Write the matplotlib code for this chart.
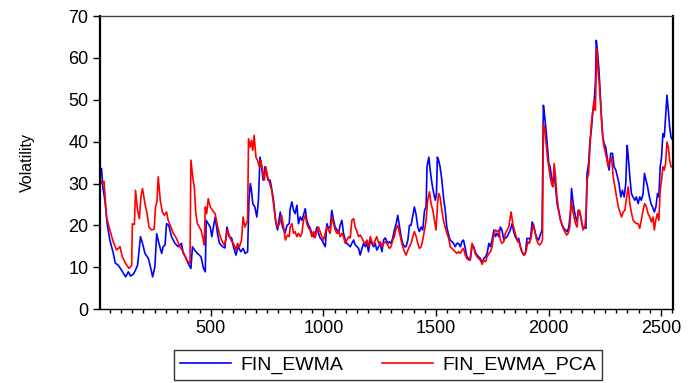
import matplotlib
matplotlib.use("Agg")
import matplotlib.pyplot as plt
from matplotlib.ticker import MultipleLocator

plt.rcParams["font.family"] = ["Liberation Sans", "DejaVu Sans"]

# FIN_EWMA: observation index / volatility level
ewma_obs = [
    5, 8, 14, 20, 29, 40, 51, 66, 75, 88, 103, 121, 133, 143, 155, 165, 174, 178,
    187, 196, 207, 222, 233, 241, 251, 259, 269, 281, 288, 296, 303, 313, 325,
    340, 355, 369, 377, 387, 399, 411, 418, 429, 440, 456, 467, 475, 479, 488,
    497, 504, 511, 519, 529, 538, 552, 562, 571, 581, 592, 600, 611, 621, 633,
    643, 652, 663, 669, 675, 680, 686, 695, 704, 711, 718, 725, 732, 740, 747,
    754, 763, 771, 778, 789, 796, 808, 818, 829, 838, 848, 852, 860, 867, 874,
    882, 889, 897, 904, 911, 919, 926, 934, 941, 948, 956, 963, 971, 978, 985,
    993, 1000, 1008, 1015, 1022, 1030, 1037, 1045, 1052, 1060, 1067, 1074, 1082,
    1089, 1097, 1104, 1112, 1119, 1126, 1134, 1141, 1149, 1156, 1163, 1171, 1178,
    1186, 1193, 1200, 1208, 1215, 1223, 1230, 1237, 1245, 1252, 1260, 1267, 1274,
    1286, 1293, 1300, 1308, 1315, 1323, 1330, 1338, 1345, 1352, 1360, 1367, 1375,
    1382, 1389, 1397, 1404, 1412, 1419, 1426, 1434, 1441, 1449, 1456, 1460, 1468,
    1475, 1482, 1490, 1497, 1502, 1506, 1512, 1518, 1526, 1533, 1541, 1548, 1556,
    1563, 1571, 1578, 1585, 1593, 1600, 1608, 1615, 1622, 1630, 1637, 1645, 1652,
    1660, 1667, 1674, 1682, 1689, 1697, 1705, 1712, 1720, 1727, 1735, 1742, 1749,
    1757, 1764, 1771, 1779, 1786, 1793, 1801, 1808, 1816, 1823, 1830, 1838, 1845,
    1852, 1860, 1867, 1875, 1882, 1890, 1897, 1904, 1912, 1919, 1927, 1934, 1941,
    1949, 1956, 1963, 1971, 1977, 1983, 1989, 1995, 2001, 2007, 2013, 2019, 2025,
    2031, 2038, 2046, 2053, 2061, 2068, 2075, 2083, 2090, 2098, 2102, 2108, 2114,
    2120, 2127, 2132, 2138, 2146, 2153, 2161, 2166, 2171, 2178, 2184, 2190, 2196,
    2202, 2208, 2212, 2217, 2223, 2229, 2235, 2241, 2247, 2254, 2262, 2269, 2276,
    2284, 2291, 2299, 2306, 2313, 2321, 2328, 2336, 2343, 2349, 2353, 2361, 2368,
    2375, 2383, 2390, 2398, 2405, 2412, 2420, 2426, 2433, 2440, 2448, 2455, 2462,
    2470, 2477, 2484, 2490, 2496, 2502, 2508, 2514, 2520, 2526, 2532, 2538, 2544,
    2552,
]
ewma_vol = [
    31.0, 32.0, 33.6, 29.0, 26.0, 20.0, 16.5, 13.4, 11.0, 10.5, 9.3, 7.7, 8.9,
    7.9, 8.3, 9.3, 10.5, 12.5, 17.3, 15.7, 13.3, 12.1, 9.7, 7.7, 10.1, 18.0, 15.7,
    13.3, 14.9, 15.3, 20.4, 20.0, 17.3, 15.7, 14.9, 15.7, 13.3, 12.5, 10.9, 9.7,
    14.9, 14.0, 13.3, 12.5, 9.7, 8.9, 21.2, 20.4, 19.6, 17.3, 19.6, 22.0, 18.1,
    15.7, 14.9, 14.6, 19.6, 17.3, 17.0, 14.9, 12.9, 14.9, 13.7, 14.5, 13.3, 13.7,
    26.0, 30.0, 28.4, 25.2, 24.4, 22.0, 26.0, 36.3, 34.0, 30.8, 34.0, 32.4, 30.8,
    30.8, 28.4, 26.0, 20.4, 18.9, 23.2, 19.6, 18.1, 20.0, 20.4, 24.0, 25.6, 23.6,
    22.8, 24.8, 20.4, 22.0, 21.2, 22.4, 24.0, 21.2, 20.0, 19.3, 18.1, 17.3, 18.1,
    19.6, 18.1, 17.0, 16.5, 15.7, 14.9, 20.4, 19.3, 19.6, 23.6, 21.2, 19.6, 18.9,
    18.1, 20.0, 21.2, 18.1, 16.5, 15.7, 15.3, 14.9, 15.7, 16.5, 15.3, 14.9, 14.5,
    12.9, 14.5, 15.7, 14.9, 15.7, 13.7, 16.5, 15.7, 14.9, 15.7, 14.1, 14.9, 15.7,
    13.7, 16.5, 17.0, 15.7, 16.1, 15.7, 17.0, 18.9, 20.4, 22.4, 19.6, 17.3, 15.7,
    14.9, 14.9, 16.5, 20.0, 20.0, 22.4, 24.4, 22.4, 19.6, 18.5, 19.6, 18.9, 23.6,
    24.4, 34.0, 36.3, 32.8, 30.0, 27.6, 26.0, 27.6, 36.3, 35.5, 34.0, 30.8, 26.8,
    23.6, 19.6, 17.7, 16.5, 16.1, 15.7, 14.9, 15.7, 15.7, 14.9, 16.1, 16.5, 14.5,
    12.5, 12.1, 11.7, 14.9, 14.9, 13.7, 12.9, 12.5, 12.1, 11.0, 12.1, 12.5, 13.3,
    15.7, 14.9, 16.5, 18.9, 17.3, 18.1, 17.3, 19.6, 18.9, 16.5, 16.9, 17.3, 18.1,
    18.9, 20.4, 18.5, 17.3, 16.5, 16.9, 14.9, 13.7, 12.9, 13.3, 16.9, 16.9, 16.5,
    20.8, 20.0, 18.1, 16.9, 16.5, 17.7, 18.9, 48.7, 45.9, 42.7, 38.7, 34.8, 34.0,
    31.6, 30.0, 32.4, 29.2, 25.2, 23.2, 21.2, 20.0, 19.3, 18.9, 18.5, 19.6, 23.6,
    28.8, 26.0, 23.6, 22.0, 20.8, 23.6, 23.2, 21.2, 19.3, 19.6, 19.3, 32.4, 34.8,
    40.3, 42.7, 46.7, 49.1, 53.9, 64.2, 61.8, 57.8, 52.3, 45.9, 41.1, 39.5, 38.7,
    35.6, 33.2, 37.2, 37.2, 34.0, 33.2, 31.6, 30.0, 26.8, 28.4, 26.8, 30.0, 39.1,
    37.2, 31.6, 27.6, 26.8, 26.0, 26.8, 25.2, 26.8, 26.0, 27.6, 32.4, 30.8, 29.2,
    26.8, 25.2, 24.4, 23.2, 24.4, 27.6, 26.8, 34.0, 36.3, 41.9, 41.1, 45.9, 51.1,
    47.5, 43.5, 41.1, 40.3,
]

# FIN_EWMA_PCA: observation index / volatility level
pca_obs = [
    5, 8, 14, 25, 36, 51, 66, 81, 96, 106, 121, 136, 148, 151, 160, 165, 174, 182,
    189, 196, 207, 216, 225, 236, 248, 254, 260, 266, 275, 284, 293, 303, 310,
    322, 333, 347, 362, 377, 392, 407, 411, 421, 426, 433, 440, 448, 456, 463,
    470, 475, 481, 488, 497, 507, 519, 527, 537, 547, 559, 566, 574, 583, 592,
    600, 611, 618, 627, 636, 643, 651, 657, 663, 667, 675, 680, 686, 692, 700,
    707, 715, 722, 730, 737, 744, 752, 761, 770, 778, 787, 796, 805, 814, 823,
    831, 840, 848, 852, 860, 867, 874, 882, 889, 897, 904, 911, 919, 926, 934,
    941, 948, 956, 963, 971, 978, 985, 993, 1000, 1008, 1015, 1022, 1030, 1037,
    1045, 1052, 1060, 1067, 1074, 1082, 1089, 1097, 1104, 1112, 1119, 1126, 1134,
    1141, 1149, 1156, 1163, 1171, 1178, 1186, 1193, 1200, 1208, 1215, 1223, 1230,
    1237, 1245, 1252, 1260, 1267, 1274, 1286, 1293, 1300, 1308, 1315, 1323, 1330,
    1338, 1345, 1352, 1360, 1367, 1375, 1382, 1389, 1397, 1404, 1412, 1419, 1426,
    1434, 1441, 1449, 1456, 1463, 1471, 1478, 1486, 1493, 1500, 1508, 1512, 1518,
    1526, 1533, 1541, 1548, 1556, 1563, 1571, 1578, 1585, 1593, 1600, 1608, 1615,
    1622, 1630, 1637, 1645, 1652, 1660, 1667, 1674, 1682, 1689, 1697, 1705, 1712,
    1720, 1727, 1735, 1742, 1749, 1757, 1764, 1771, 1779, 1786, 1793, 1801, 1808,
    1816, 1823, 1830, 1834, 1841, 1848, 1856, 1863, 1871, 1878, 1886, 1893, 1901,
    1908, 1915, 1923, 1930, 1938, 1945, 1953, 1960, 1967, 1973, 1977, 1983, 1989,
    1995, 2001, 2007, 2013, 2019, 2025, 2031, 2037, 2043, 2050, 2058, 2065, 2072,
    2080, 2087, 2094, 2101, 2107, 2113, 2120, 2127, 2132, 2138, 2146, 2153, 2161,
    2166, 2171, 2178, 2184, 2190, 2196, 2202, 2208, 2214, 2220, 2226, 2232, 2238,
    2244, 2250, 2257, 2265, 2272, 2280, 2287, 2295, 2302, 2310, 2317, 2324, 2332,
    2339, 2347, 2354, 2361, 2369, 2376, 2383, 2390, 2398, 2405, 2412, 2420, 2427,
    2435, 2442, 2450, 2457, 2464, 2470, 2476, 2483, 2490, 2496, 2502, 2508, 2514,
    2520, 2526, 2532, 2538, 2544, 2552,
]
pca_vol = [
    29.0, 31.0, 30.0, 30.5, 22.0, 18.9, 16.1, 14.1, 14.9, 12.5, 10.9, 9.7, 10.5,
    20.4, 20.2, 28.4, 23.6, 21.6, 26.8, 28.8, 25.2, 22.8, 19.6, 18.9, 19.1, 24.4,
    25.6, 31.6, 26.0, 23.2, 22.4, 23.2, 21.2, 19.6, 18.1, 16.9, 14.9, 13.7, 11.7,
    10.9, 35.6, 30.8, 29.2, 22.8, 20.4, 19.6, 18.9, 17.3, 15.3, 24.4, 22.8, 26.4,
    24.4, 23.6, 22.8, 20.4, 18.1, 16.5, 15.3, 16.5, 18.9, 17.3, 16.1, 15.7, 14.1,
    15.7, 14.9, 16.5, 22.0, 19.6, 20.4, 21.2, 40.7, 38.7, 40.3, 37.9, 41.5, 36.3,
    35.5, 34.0, 35.5, 32.8, 30.8, 34.0, 31.6, 30.0, 28.4, 25.2, 21.2, 19.6, 20.4,
    22.4, 19.6, 16.5, 17.7, 17.3, 19.6, 20.4, 18.1, 18.5, 17.3, 18.1, 17.3, 18.1,
    21.2, 22.4, 20.4, 19.3, 18.9, 17.3, 18.5, 17.0, 18.9, 19.6, 18.5, 17.3, 16.5,
    18.1, 19.6, 18.9, 18.1, 22.0, 20.4, 18.9, 18.1, 18.9, 17.3, 18.1, 17.3, 15.7,
    16.5, 17.3, 17.0, 21.2, 21.6, 19.6, 18.5, 17.3, 17.7, 17.0, 16.1, 15.7, 16.5,
    14.9, 17.3, 16.1, 15.3, 16.5, 17.3, 15.7, 16.1, 14.9, 15.7, 16.1, 15.3, 14.5,
    14.9, 16.5, 17.3, 19.3, 20.0, 18.1, 16.5, 14.9, 13.7, 12.9, 14.1, 14.9, 15.7,
    17.3, 18.5, 17.3, 15.7, 14.5, 14.9, 16.5, 18.9, 21.2, 26.0, 28.0, 25.2, 23.6,
    21.2, 18.9, 26.0, 27.6, 26.8, 23.6, 21.2, 19.6, 18.1, 17.0, 14.9, 14.5, 14.1,
    13.7, 13.3, 13.7, 13.3, 14.1, 14.5, 12.9, 12.1, 11.7, 12.1, 15.7, 14.9, 13.3,
    12.5, 12.1, 11.7, 10.7, 11.7, 11.3, 12.5, 13.3, 13.7, 14.9, 18.1, 18.9, 18.5,
    18.9, 16.5, 15.7, 16.1, 18.1, 18.9, 19.6, 22.0, 23.2, 20.4, 18.9, 17.3, 16.1,
    15.7, 14.1, 13.3, 12.9, 14.1, 16.1, 15.7, 17.3, 20.0, 18.9, 16.9, 15.7, 15.3,
    15.7, 16.5, 44.3, 42.7, 39.5, 36.3, 34.0, 31.6, 30.0, 29.2, 34.8, 31.6, 26.8,
    24.4, 22.0, 20.4, 19.3, 18.5, 17.7, 18.1, 19.6, 26.0, 23.6, 22.0, 20.4, 19.6,
    23.5, 23.6, 21.2, 18.9, 19.6, 22.0, 30.8, 32.4, 38.7, 44.3, 47.1, 49.9, 47.5,
    62.2, 57.0, 53.1, 48.3, 42.7, 39.5, 37.9, 36.3, 34.0, 35.6, 36.3, 31.6, 29.2,
    26.8, 24.4, 23.2, 22.0, 23.2, 23.6, 26.8, 29.2, 25.2, 22.8, 21.2, 20.8, 20.4,
    20.4, 19.3, 21.2, 23.6, 25.2, 24.4, 22.8, 22.0, 20.8, 22.0, 18.9, 21.2, 22.8,
    21.2, 28.4, 30.8, 34.0, 33.2, 34.8, 39.9, 38.7, 35.6, 34.0, 34.0,
]

fig = plt.figure(figsize=(6.91, 3.83), dpi=100)
ax = fig.add_axes([0.144, 0.193, 0.830, 0.765])

ax.plot(ewma_obs, ewma_vol, color="#0000ff", lw=1.2, label="FIN_EWMA")
ax.plot(pca_obs, pca_vol, color="#ff0000", lw=1.2, label="FIN_EWMA_PCA")

ax.set_xlim(5, 2553)
ax.set_ylim(0, 70)
ax.xaxis.set_major_locator(MultipleLocator(500))
ax.xaxis.set_minor_locator(MultipleLocator(50))
ax.yaxis.set_major_locator(MultipleLocator(10))

ax.tick_params(axis="x", which="major", direction="out", length=5, width=1,
               labelsize=13, pad=3)
ax.tick_params(axis="x", which="minor", direction="out", length=3, width=1)
ax.tick_params(axis="y", which="major", direction="out", length=5, width=1,
               labelsize=13, pad=3)

for side in ("left", "right"):
    ax.spines[side].set_linewidth(1.6)
    ax.spines[side].set_color("black")
ax.spines["bottom"].set_linewidth(1.0)
ax.spines["top"].set_linewidth(1.0)
ax.spines["top"].set_color("#404040")

ax.set_ylabel("Volatility", fontsize=11.5, va="center")
ax.yaxis.set_label_coords(-0.126, 0.5)

fig.legend(loc="center", bbox_to_anchor=(388 / 691, 1 - 365 / 383), ncol=2,
           fontsize=14, frameon=True, fancybox=False, edgecolor="black",
           handlelength=2.6, handletextpad=0.5, columnspacing=2.0,
           borderpad=0.3, borderaxespad=0.0)
fig.legends[0].get_frame().set_linewidth(1.0)

fig.savefig("out.png", dpi=100)
